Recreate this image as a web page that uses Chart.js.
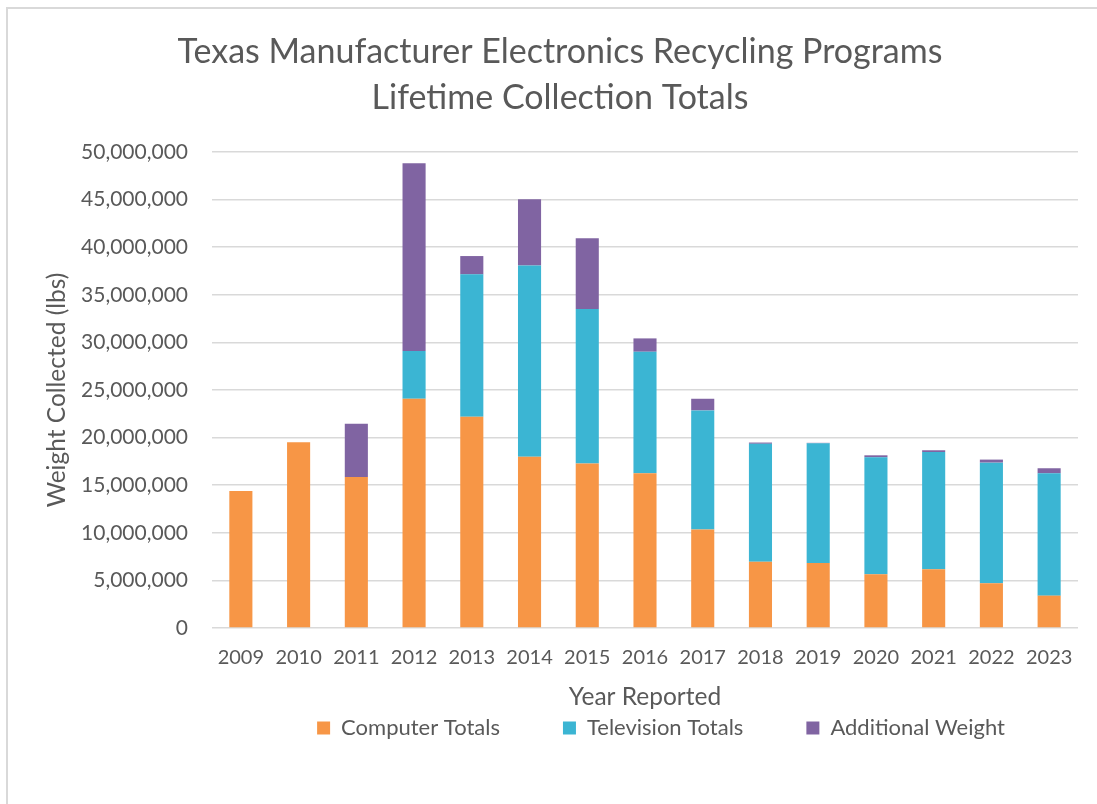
<!DOCTYPE html>
<html lang="en">
<head>
  <meta charset="UTF-8">
  <title>Texas Manufacturer Electronics Recycling Programs</title>
  <script src="https://cdn.jsdelivr.net/npm/chart.js"></script>
  <style>
    html, body { margin: 0; padding: 0; background: #ffffff; }
    body { width: 1097px; height: 804px; position: relative; overflow: hidden; }
    .moldura {
      position: absolute; left: 6px; top: 7px; right: -10px; bottom: -10px;
      border-left: 2px solid #d9d9d9; border-top: 2px solid #d9d9d9;
    }
    .grafico { position: absolute; left: 0; top: 0; width: 1097px; height: 804px; }
  </style>
</head>
<body>
  <div class="moldura"></div>
  <div class="grafico">
    <canvas id="graficoReciclagem" width="1097" height="804"></canvas>
  </div>

<script>
  // anos reportados
  const anos = ['2009', '2010', '2011', '2012', '2013', '2014', '2015', '2016',
                '2017', '2018', '2019', '2020', '2021', '2022', '2023'];

  // pesos em libras
  const computadores = [14400000, 19500000, 15850000, 24070000, 22180000, 17980000, 17280000, 16260000,
                        10340000, 6970000, 6830000, 5640000, 6170000, 4700000, 3400000];
  const televisores = [0, 0, 0, 5020000, 14970000, 20090000, 16220000, 12760000,
                       12510000, 12380000, 12570000, 12290000, 12320000, 12670000, 12850000];
  const pesoAdicional = [0, 0, 5600000, 19730000, 1920000, 6970000, 7440000, 1400000,
                         1230000, 130000, 50000, 210000, 180000, 320000, 530000];

  const nomesSeries = ['Computer Totals', 'Television Totals', 'Additional Weight'];
  const tituloGrafico = ['Texas Manufacturer Electronics Recycling Programs', 'Lifetime Collection Totals'];

  const corTexto = '#595959';
  const fonte = 'Lato';

  // reposiciona a legenda (mais a direita e logo abaixo do titulo do eixo x)
  // a legenda recorta o desenho na propria caixa, entao a caixa e esticada ate o fim
  const moverLegenda = {
    id: 'moverLegenda',
    afterLayout(chart) {
      const lg = chart.legend;
      lg.left += 101;
      lg.right += 101;
      lg.top -= 58;
      lg.bottom = chart.height;
    }
  };

  const dados = {
    labels: anos,
    datasets: [
      { label: nomesSeries[0], data: computadores, backgroundColor: '#f79646' },
      { label: nomesSeries[1], data: televisores, backgroundColor: '#3bb5d3' },
      { label: nomesSeries[2], data: pesoAdicional, backgroundColor: '#8064a2' }
    ]
  };

  const config = {
    type: 'bar',
    data: dados,
    plugins: [moverLegenda],
    options: {
      responsive: false,
      animation: false,
      layout: { padding: { left: 42, right: 19, top: 0, bottom: 52 } },
      datasets: {
        bar: { barPercentage: 0.4, categoryPercentage: 1.0, borderWidth: 0 }
      },
      plugins: {
        title: {
          display: true,
          text: tituloGrafico,
          color: corTexto,
          font: { family: fonte, size: 34, weight: 'normal', lineHeight: 46 / 34 },
          padding: { top: 29, bottom: 31 }
        },
        legend: {
          position: 'bottom',
          maxHeight: 40,
          labels: {
            color: corTexto,
            font: { family: fonte, size: 22 },
            boxWidth: 13,
            boxHeight: 13,
            padding: 63
          }
        },
        tooltip: { enabled: false }
      },
      scales: {
        x: {
          stacked: true,
          afterFit: function (escala) { escala.height = 84; },
          grid: { display: false, drawTicks: false },
          border: { display: false },
          ticks: { color: corTexto, font: { family: fonte, size: 20 }, padding: 18, maxRotation: 0 },
          title: {
            display: true,
            text: 'Year Reported',
            color: corTexto,
            font: { family: fonte, size: 24.5 },
            padding: { top: 0, bottom: 0 }
          }
        },
        y: {
          stacked: true,
          min: 0,
          max: 50000000,
          afterFit: function (escala) { escala.width = 212 - 42; },
          grid: { color: '#d9d9d9', lineWidth: 1.5, drawTicks: false },
          border: { display: false },
          ticks: {
            stepSize: 5000000,
            color: corTexto,
            font: { family: fonte, size: 21 },
            padding: 24,
            callback: function (valor) { return valor.toLocaleString('en-US'); }
          },
          title: {
            display: true,
            text: 'Weight Collected (lbs)',
            color: corTexto,
            font: { family: fonte, size: 24.5 },
            padding: { top: 0, bottom: 0 }
          }
        }
      }
    }
  };

  new Chart(document.getElementById('graficoReciclagem'), config);
</script>
</body>
</html>
